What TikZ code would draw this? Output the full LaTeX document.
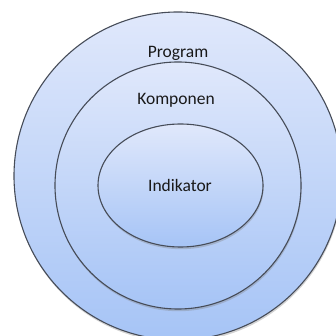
\documentclass[tikz,border=0pt]{standalone}
\usepackage{fontspec}
\setmainfont{Carlito}
\usetikzlibrary{shapes.geometric,shadows}

\definecolor{ringtop}{RGB}{224,232,251}
\definecolor{ringbot}{RGB}{166,196,246}
\definecolor{ringline}{RGB}{70,76,88}

\tikzset{
  ring/.style={ellipse, draw=ringline, line width=1.1pt, inner sep=0pt,
    top color=ringtop, bottom color=ringbot,
    drop shadow={opacity=0.35, shadow xshift=0.6pt, shadow yshift=-2.2pt}},
  ringtext/.style={font=\fontsize{17.5}{20}\selectfont, text=black!90}
}

\begin{document}
\begin{tikzpicture}[x=1pt, y=1pt]
  \useasboundingbox (0,0) rectangle (335,336);

  % lapisan dari luar ke dalam
  \node[ring, minimum width=328pt, minimum height=328pt] (program) at (178,160) {};
  \node[ring, minimum width=246pt, minimum height=247pt] (komponen) at (178,150.5) {};
  \node[ring, minimum width=165pt, minimum height=123pt] (indikator) at (180.5,150.5) {};

  \node[ringtext] (programtxt) at (178,283) {Program};
  \node[ringtext] (komponentxt) at (176,236) {Komponen};
  \node[ringtext] (indikatortxt) at (180,151) {Indikator};
\end{tikzpicture}
\end{document}
